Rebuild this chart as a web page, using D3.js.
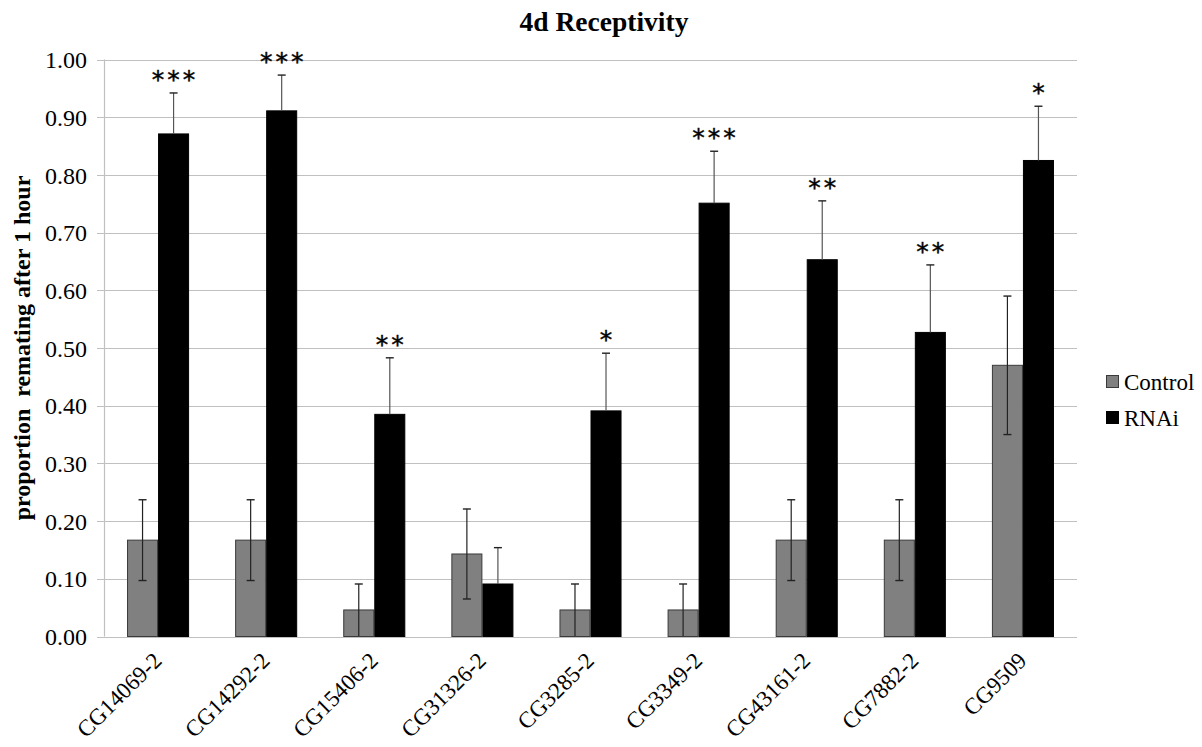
<!DOCTYPE html>
<html>
<head>
<meta charset="utf-8">
<script src="https://cdn.jsdelivr.net/npm/d3@7"></script>
<style>
  html, body { margin: 0; padding: 0; background: #fff; }
  svg { display: block; }
  .serif { font-family: "Liberation Serif", "DejaVu Serif", "Times New Roman", serif; }
</style>
</head>
<body>
<svg id="chart" width="1202" height="747"></svg>
<script>
const categories = ["CG14069-2","CG14292-2","CG15406-2","CG31326-2","CG3285-2","CG3349-2","CG43161-2","CG7882-2","CG9509"];
const seriesNames = ["Control","RNAi"];
const controlValues = [0.167,0.167,0.046,0.143,0.046,0.046,0.167,0.167,0.470];
const controlErrors = [0.070,0.070,0.045,0.078,0.045,0.045,0.070,0.070,0.120];
const rnaiValues = [0.871,0.911,0.385,0.091,0.391,0.751,0.653,0.527,0.825];
const rnaiErrors = [0.071,0.062,0.098,0.063,0.100,0.090,0.102,0.117,0.094];
const significance = ["***","***","**","","*","***","**","**","*"];
const yTicks = [0,0.1,0.2,0.3,0.4,0.5,0.6,0.7,0.8,0.9,1.0];

(function(){
const svg = d3.select("#chart");
const mLeft = 104, mRight = 1077, mTop = 59.5, mBottom = 636.5;

const y = d3.scaleLinear().domain([0,1]).range([mBottom, mTop]);
const x0 = d3.scaleBand().domain(categories).range([mLeft, mRight]).paddingInner(0.426).paddingOuter(0.213);
const x1 = d3.scaleBand().domain(seriesNames).range([0, x0.bandwidth()]);
const colors = {Control:"#808080", RNAi:"#000000"};
const strokes = {Control:"#3a3a3a", RNAi:"#000000"};

svg.append("g").selectAll("line").data(yTicks).join("line")
  .attr("x1", mLeft - 7).attr("x2", mRight)
  .attr("y1", d => Math.round(y(d)) + 0.5).attr("y2", d => Math.round(y(d)) + 0.5)
  .attr("stroke", "#c0c0c0").attr("stroke-width", 1.2);

svg.append("line").attr("x1", mLeft + 0.5).attr("x2", mLeft + 0.5)
  .attr("y1", y(1)).attr("y2", y(0)).attr("stroke", "#c0c0c0").attr("stroke-width", 1.2);

const yAxis = d3.axisLeft(y).tickValues(yTicks).tickFormat(d3.format(".2f")).tickSize(0).tickPadding(17);
const yg = svg.append("g").attr("transform", `translate(${mLeft},0)`).call(yAxis);
yg.attr("font-family", null).attr("font-size", null);
yg.select(".domain").remove();
yg.selectAll("text").attr("class", "serif").style("font-size", "24px").attr("fill", "#000").attr("dy", "0.34em");

const rows = categories.map((c, i) => ({
  cat: c,
  bars: [
    {s: "Control", v: controlValues[i], e: controlErrors[i]},
    {s: "RNAi", v: rnaiValues[i], e: rnaiErrors[i]}
  ],
  sig: significance[i]
}));

const groups = svg.append("g").selectAll("g").data(rows).join("g")
  .attr("transform", d => `translate(${x0(d.cat)},0)`);

groups.selectAll("rect").data(d => d.bars).join("rect")
  .attr("x", d => x1(d.s) + 0.5)
  .attr("width", x1.bandwidth() - 1)
  .attr("y", d => y(d.v))
  .attr("height", d => y(0) - y(d.v))
  .attr("fill", d => colors[d.s])
  .attr("stroke", d => strokes[d.s]).attr("stroke-width", 1);

const eb = groups.selectAll("g.err").data(d => d.bars).join("g").attr("class","err");
eb.append("line")
  .attr("x1", d => x1(d.s) + x1.bandwidth()/2).attr("x2", d => x1(d.s) + x1.bandwidth()/2)
  .attr("y1", d => d.s === "RNAi" ? y(d.v) : y(Math.max(0, d.v - d.e))).attr("y2", d => y(d.v + d.e))
  .attr("stroke", d => d.s === "RNAi" ? "#555" : "#222").attr("stroke-width", 1.2);
eb.append("line")
  .attr("x1", d => x1(d.s) + x1.bandwidth()/2 - 4).attr("x2", d => x1(d.s) + x1.bandwidth()/2 + 4)
  .attr("y1", d => y(d.v + d.e)).attr("y2", d => y(d.v + d.e))
  .attr("stroke", "#222").attr("stroke-width", 1.4);
eb.filter(d => d.s === "Control" && d.v - d.e > 0.005).append("line")
  .attr("x1", d => x1(d.s) + x1.bandwidth()/2 - 4).attr("x2", d => x1(d.s) + x1.bandwidth()/2 + 4)
  .attr("y1", d => y(d.v - d.e)).attr("y2", d => y(d.v - d.e))
  .attr("stroke", "#222").attr("stroke-width", 1.4);

groups.append("text")
  .attr("x", x1("RNAi") + x1.bandwidth()/2 + 1.5)
  .attr("y", d => y(d.bars[1].v + d.bars[1].e) - 5)
  .attr("text-anchor", "middle")
  .style("font-family", "'DejaVu Sans', sans-serif")
  .style("font-size", "25px")
  .attr("letter-spacing", 3)
  .attr("fill", "#000")
  .attr("stroke", "#000").attr("stroke-width", 0.4)
  .text(d => d.sig);

svg.append("g").selectAll("text").data(categories).join("text")
  .attr("class", "serif")
  .attr("transform", d => `translate(${x0(d) + x0.bandwidth()/2 + 5},662) rotate(-45)`)
  .attr("text-anchor", "end")
  .style("font-size", "23px").attr("fill", "#000")
  .text(d => d);

svg.append("text").attr("class", "serif").attr("x", 604).attr("y", 31).attr("text-anchor", "middle")
  .style("font-weight", "bold").style("font-size", "27.5px")
  .text("4d Receptivity");

svg.append("text").attr("class", "serif")
  .attr("transform", "translate(30,348) rotate(-90)")
  .attr("text-anchor", "middle")
  .style("font-weight", "bold").style("font-size", "24px")
  .style("white-space", "pre")
  .text("proportion  remating after 1 hour");

const lg = svg.append("g").selectAll("g").data(seriesNames).join("g")
  .attr("transform", (d, i) => `translate(1106,${382 + i * 36})`);
lg.append("rect").attr("x", 0.5).attr("y", -6.5).attr("width", 12).attr("height", 12)
  .attr("fill", d => colors[d]).attr("stroke", d => strokes[d]);
lg.append("text").attr("class", "serif").attr("x", 18).attr("y", 8)
  .style("font-size", "23px").attr("fill", "#000")
  .text(d => d);
})();
</script>
</body>
</html>
